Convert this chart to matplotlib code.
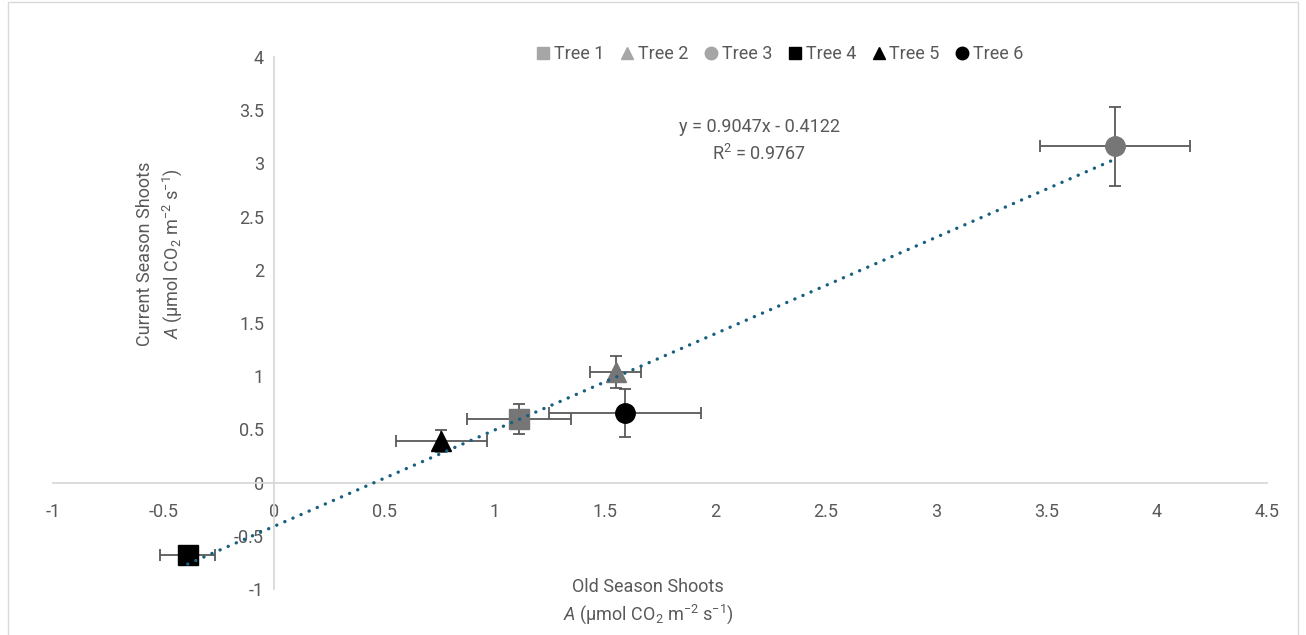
import numpy as np
import matplotlib.pyplot as plt
from matplotlib.lines import Line2D
from matplotlib.patches import Rectangle

plt.rcParams['font.family'] = ['Roboto', 'DejaVu Sans']
plt.rcParams['mathtext.fontset'] = 'custom'
plt.rcParams['mathtext.rm'] = 'Roboto'
plt.rcParams['mathtext.it'] = 'Roboto:italic'
plt.rcParams['mathtext.default'] = 'regular'

# data
trees = ['Tree 1', 'Tree 2', 'Tree 3', 'Tree 4', 'Tree 5', 'Tree 6']
old_a = [1.11, 1.55, 3.81, -0.39, 0.76, 1.59]
old_err = [0.235, 0.115, 0.34, 0.125, 0.205, 0.345]
cur_a = [0.60, 1.04, 3.16, -0.68, 0.39, 0.65]
cur_err = [0.14, 0.15, 0.37, 0.06, 0.10, 0.225]
markers = ['s', '^', 'o', 's', '^', 'o']
colors = ['#767676', '#767676', '#767676', '#000000', '#000000', '#000000']
legend_colors = ['#a6a6a6', '#a6a6a6', '#a6a6a6', '#000000', '#000000', '#000000']

xticks = [-1, -0.5, 0, 0.5, 1, 1.5, 2, 2.5, 3, 3.5, 4, 4.5]
yticks = [-1, -0.5, 0, 0.5, 1, 1.5, 2, 2.5, 3, 3.5, 4]

txt = '#595959'
fs = 13
fig = plt.figure(figsize=(13.06, 6.35), dpi=100)
ax = fig.add_axes([53/1306, 1-589/635, (1267-53)/1306, (589-57)/635])

for i in range(len(trees)):
    ax.errorbar(old_a[i], cur_a[i], xerr=old_err[i], yerr=cur_err[i], fmt='none',
                ecolor='#595959', elinewidth=1.3, capsize=4.3, capthick=1.3, zorder=3)
    ax.plot(old_a[i], cur_a[i], marker=markers[i], color=colors[i], markersize=14,
            linestyle='none', zorder=4)

# linear trendline
k, b = np.polyfit(old_a, cur_a, 1)
xs = np.array([min(old_a), max(old_a)])
ax.plot(xs, k * xs + b, color='#18607f', lw=2.4, linestyle=(0, (0.05, 2.6)),
        dash_capstyle='round', zorder=5)

ax.text(0.582, 0.842, 'y = 0.9047x - 0.4122\nR$^2$ = 0.9767', transform=ax.transAxes,
        ha='center', va='center', fontsize=fs, color=txt, linespacing=1.45)

ax.set_xlim(-1, 4.5)
ax.set_ylim(-1, 4)
ax.set_xticks(xticks)
ax.set_yticks(yticks)
ax.set_xticklabels([f'{t:g}' for t in xticks])
ax.set_yticklabels([f'{t:g}' for t in yticks])
ax.spines['left'].set_position(('data', 0))
ax.spines['bottom'].set_position(('data', 0))
ax.spines['top'].set_visible(False)
ax.spines['right'].set_visible(False)
for s in ['left', 'bottom']:
    ax.spines[s].set_color('#d9d9d9')
    ax.spines[s].set_linewidth(1.3)
ax.tick_params(axis='x', length=0, pad=15, labelsize=fs, colors=txt)
ax.tick_params(axis='y', length=0, pad=7, labelsize=fs, colors=txt)
ax.patch.set_alpha(0)

ax.set_xlabel('Old Season Shoots\n$\\mathit{A}$ (µmol CO$_2$ m$^{-2}$ s$^{-1}$)',
              fontsize=fs, color=txt, linespacing=1.35)
ax.set_ylabel('Current Season Shoots\n$\\mathit{A}$ (µmol CO$_2$ m$^{-2}$ s$^{-1}$)',
              fontsize=fs, color=txt, linespacing=1.35)
ax.xaxis.set_label_coords(0.49, -0.025)
ax.yaxis.set_label_coords(0.088, 0.63)
ax.xaxis.label.set_va('center')
ax.yaxis.label.set_va('center')

handles = [Line2D([], [], marker=m, color=c, linestyle='none', markersize=9)
           for m, c in zip(markers, legend_colors)]
leg = ax.legend(handles, trees, loc='center', bbox_to_anchor=(0.598, 1.005), ncol=6,
                frameon=False, fontsize=fs, handletextpad=0.1, columnspacing=0.75,
                handlelength=1.0)
for t in leg.get_texts():
    t.set_color(txt)

fig.patches.append(Rectangle((8/1306, -0.01), 1290/1306, 1.01 - 2/635, transform=fig.transFigure,
                             fill=False, edgecolor='#d9d9d9', linewidth=1.0))

fig.savefig('out.png', dpi=100)
